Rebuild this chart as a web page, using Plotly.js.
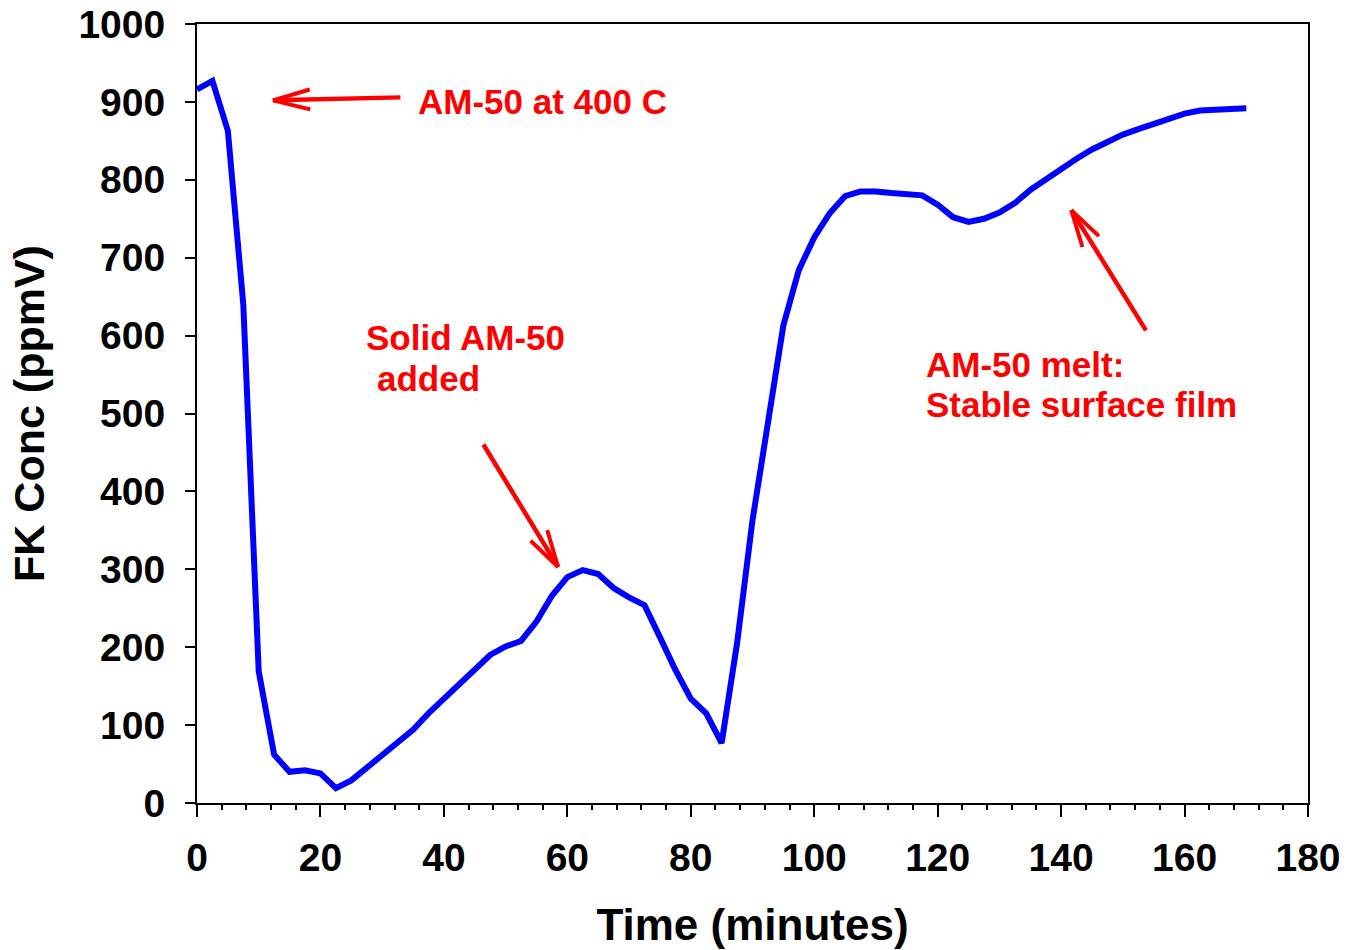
<!DOCTYPE html>
<html>
<head>
<meta charset="utf-8">
<script src="https://cdn.plot.ly/plotly-3.0.1.min.js"></script>
<style>
  html, body { margin: 0; padding: 0; background: #ffffff; }
  #chart { width: 1347px; height: 950px; }
</style>
</head>
<body>
<div id="chart"></div>
<script>
// ---- Data ----
const timeMinutes = [
  0, 2.5, 5, 7.5, 10, 12.5, 15, 17.5, 20, 22.5,
  25, 27.5, 30, 32.5, 35, 37.5, 40, 42.5, 45, 47.5,
  50, 52.5, 55, 57.5, 60, 62.5, 65, 67.5, 70, 72.5,
  75, 77.5, 80, 82.5, 85, 87.5, 90, 92.5, 95, 97.5,
  100, 102.5, 105, 107.5, 110, 112.5, 115, 117.5, 120, 122.5,
  125, 127.5, 130, 132.5, 135, 137.5, 140, 142.5, 145, 147.5,
  150, 152.5, 155, 157.5, 160, 162.5, 165, 167.5, 170
];
const fkConcPpmv = [
  916, 927, 863, 640, 169, 62, 40, 42, 38, 19,
  29, 45, 61, 76, 94, 115, 134, 153, 171, 190,
  201, 208, 233, 266, 290, 299, 294, 276, 264, 254,
  213, 171, 134, 115, 77, 205, 363, 489, 613, 684,
  726, 757, 779, 785, 785, 783, 782, 780, 768, 752,
  746, 750, 758, 770, 787, 801, 814, 827, 839, 849,
  858, 865, 872, 878, 885, 889, 890, 891, 892
];
const xTickValues = [0, 20, 40, 60, 80, 100, 120, 140, 160, 180];
const yTickValues = [0, 100, 200, 300, 400, 500, 600, 700, 800, 900, 1000];
const xTitle = 'Time (minutes)';
const yTitle = 'FK Conc (ppmV)';
const noteLabels = ['AM-50 at 400 C', 'Solid AM-50', 'added', 'AM-50 melt:', 'Stable surface film'];

// ---- Styling ----
const FONT = 'Liberation Sans, Arial, Helvetica, sans-serif';
const RED = '#ff0000';
const BLUE = '#0000ff';

const trace = {
  type: 'scatter',
  mode: 'lines',
  x: timeMinutes,
  y: fkConcPpmv,
  line: { color: BLUE, width: 6 },
  hoverinfo: 'x+y'
};

// Text annotations (anchored on the left of each label)
function note(text, x, y) {
  return {
    xref: 'x', yref: 'y', x: x, y: y, text: text,
    showarrow: false, xanchor: 'left', yanchor: 'middle',
    font: { family: FONT, size: 35, color: RED, weight: 'bold' }
  };
}

// Arrow = shaft + two open arms, arms derived from the shaft direction
function arrow(tipX, tipY, tailDx, tailDy) {
  const len = Math.hypot(tailDx, tailDy);
  const ux = tailDx / len, uy = tailDy / len;
  const armLen = 40, ang = 15 * Math.PI / 180;
  const parts = [{ ax: tailDx, ay: tailDy, w: 4.5 }];
  [ang, -ang].forEach(a => {
    parts.push({
      ax: (ux * Math.cos(a) - uy * Math.sin(a)) * armLen,
      ay: (ux * Math.sin(a) + uy * Math.cos(a)) * armLen,
      w: 4
    });
  });
  return parts.map(p => ({
    xref: 'x', yref: 'y', x: tipX, y: tipY, ax: p.ax, ay: p.ay,
    text: '', showarrow: true, arrowhead: 0, arrowwidth: p.w,
    arrowcolor: RED, standoff: 0, startstandoff: 0
  }));
}

const annotations = [
  note(noteLabels[0], 35.5, 900),
  note(noteLabels[1], 27.0, 598),
  note(noteLabels[2], 28.8, 545.5),
  note(noteLabels[3], 117.8, 563.5),
  note(noteLabels[4], 117.8, 512)
].concat(
  arrow(12.3, 902, 129, -3),
  arrow(58.5, 303, -75.6, -124),
  arrow(141.65, 761, 75.6, 121.7)
);

const axisCommon = {
  showline: true, linewidth: 2, linecolor: '#000', mirror: true,
  showgrid: false, zeroline: false,
  ticks: 'outside', tickwidth: 2, tickcolor: '#000',
  tickfont: { family: FONT, size: 39, color: '#000', weight: 'bold' }
};

const layout = {
  width: 1347, height: 950,
  margin: { l: 197, r: 39, t: 24, b: 147 },
  paper_bgcolor: '#ffffff', plot_bgcolor: '#ffffff',
  showlegend: false,
  font: { family: FONT, color: '#000' },
  xaxis: Object.assign({}, axisCommon, {
    range: [0, 180],
    tickmode: 'array', tickvals: xTickValues, ticktext: xTickValues.map(String),
    ticklen: 12,
    ticklabelstandoff: 7,
    minor: { dtick: 4, tick0: 0, ticks: 'outside', ticklen: 5, tickwidth: 2, tickcolor: '#000', showgrid: false },
    title: { text: xTitle, font: { family: FONT, size: 44, color: '#000', weight: 'bold' }, standoff: 31 }
  }),
  yaxis: Object.assign({}, axisCommon, {
    range: [0, 1000],
    tickmode: 'array', tickvals: yTickValues, ticktext: yTickValues.map(String),
    ticklen: 10,
    ticklabelstandoff: 12,
    title: { text: yTitle, font: { family: FONT, size: 43, color: '#000', weight: 'bold' }, standoff: 20 }
  }),
  annotations: annotations
};

Plotly.newPlot('chart', [trace], layout, { displayModeBar: false, staticPlot: true });
</script>
</body>
</html>
